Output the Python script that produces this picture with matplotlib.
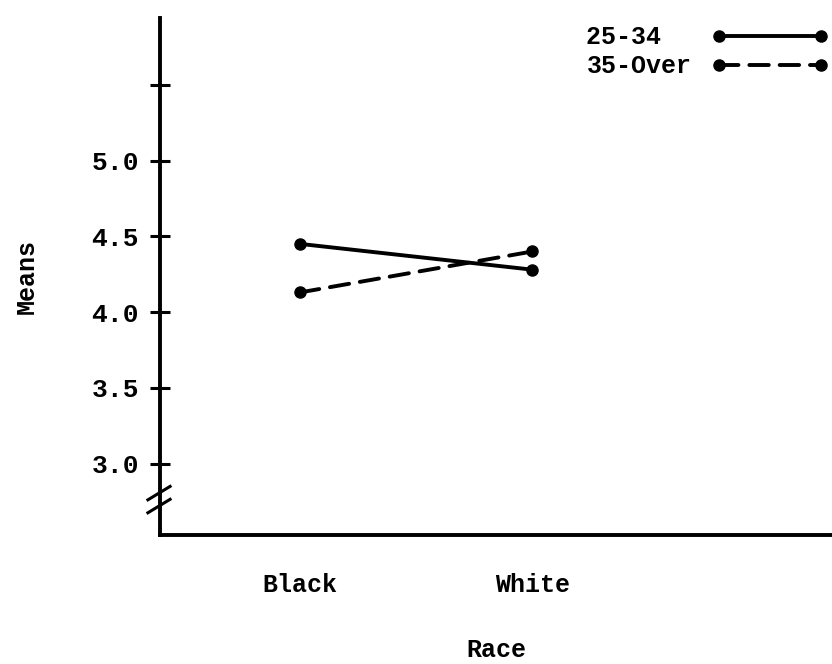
import numpy as np
import matplotlib.pyplot as plt

races = ["Black", "White"]
age_groups = ["25-34  ", "35-Over"]
means_25_34 = [4.45, 4.28]
means_35_over = [4.13, 4.40]
yticks = [3.0, 3.5, 4.0, 4.5, 5.0, 5.5]
ytick_labels = ["3.0", "3.5", "4.0", "4.5", "5.0", ""]

plt.rcParams['font.family'] = ['Liberation Mono', 'DejaVu Sans Mono']
plt.rcParams['font.weight'] = 'bold'
plt.rcParams['axes.labelweight'] = 'bold'

fig = plt.figure(figsize=(8.32, 6.64), dpi=100)
ax = fig.add_axes([160 / 832, 1 - 535 / 664, 672 / 832, 517 / 664])

x = np.arange(1, len(races) + 1)
ax.plot(x, means_25_34, color='black', lw=2.8, marker='o', ms=8,
        solid_capstyle='round', label=age_groups[0])
ax.plot(x, means_35_over, color='black', lw=2.8, marker='o', ms=8,
        linestyle=(0, (5, 2.8)), dash_capstyle='round', label=age_groups[1])

ax.set_xlim(0.397, 3.29)
ax.set_ylim(2.53, 5.94)
ax.set_xticks(x)
ax.set_xticklabels(races, fontsize=18)
ax.set_yticks(yticks)
ax.set_yticklabels(ytick_labels, fontsize=19)
ax.tick_params(axis='x', length=0, pad=27)
ax.tick_params(axis='y', direction='inout', length=14, width=2.2, pad=8)

for side in ['top', 'right']:
    ax.spines[side].set_visible(False)
for side in ['left', 'bottom']:
    ax.spines[side].set_linewidth(2.8)

ax.set_xlabel("Race", fontsize=18, labelpad=30)
ax.set_ylabel("Means", fontsize=18, labelpad=38)

# axis break marks
for y0 in [0.043, 0.068]:
    ax.plot([-0.018, 0.015], [y0, y0 + 0.026], color='black', lw=2.2,
            transform=ax.transAxes, clip_on=False)

leg = ax.legend(loc='upper right', bbox_to_anchor=(1.0104, 1.005), frameon=False,
                markerfirst=False, numpoints=2, handlelength=4.7,
                fontsize=18, labelspacing=0.2, handletextpad=0.8,
                borderaxespad=0)

fig.savefig("out.png", dpi=100)
